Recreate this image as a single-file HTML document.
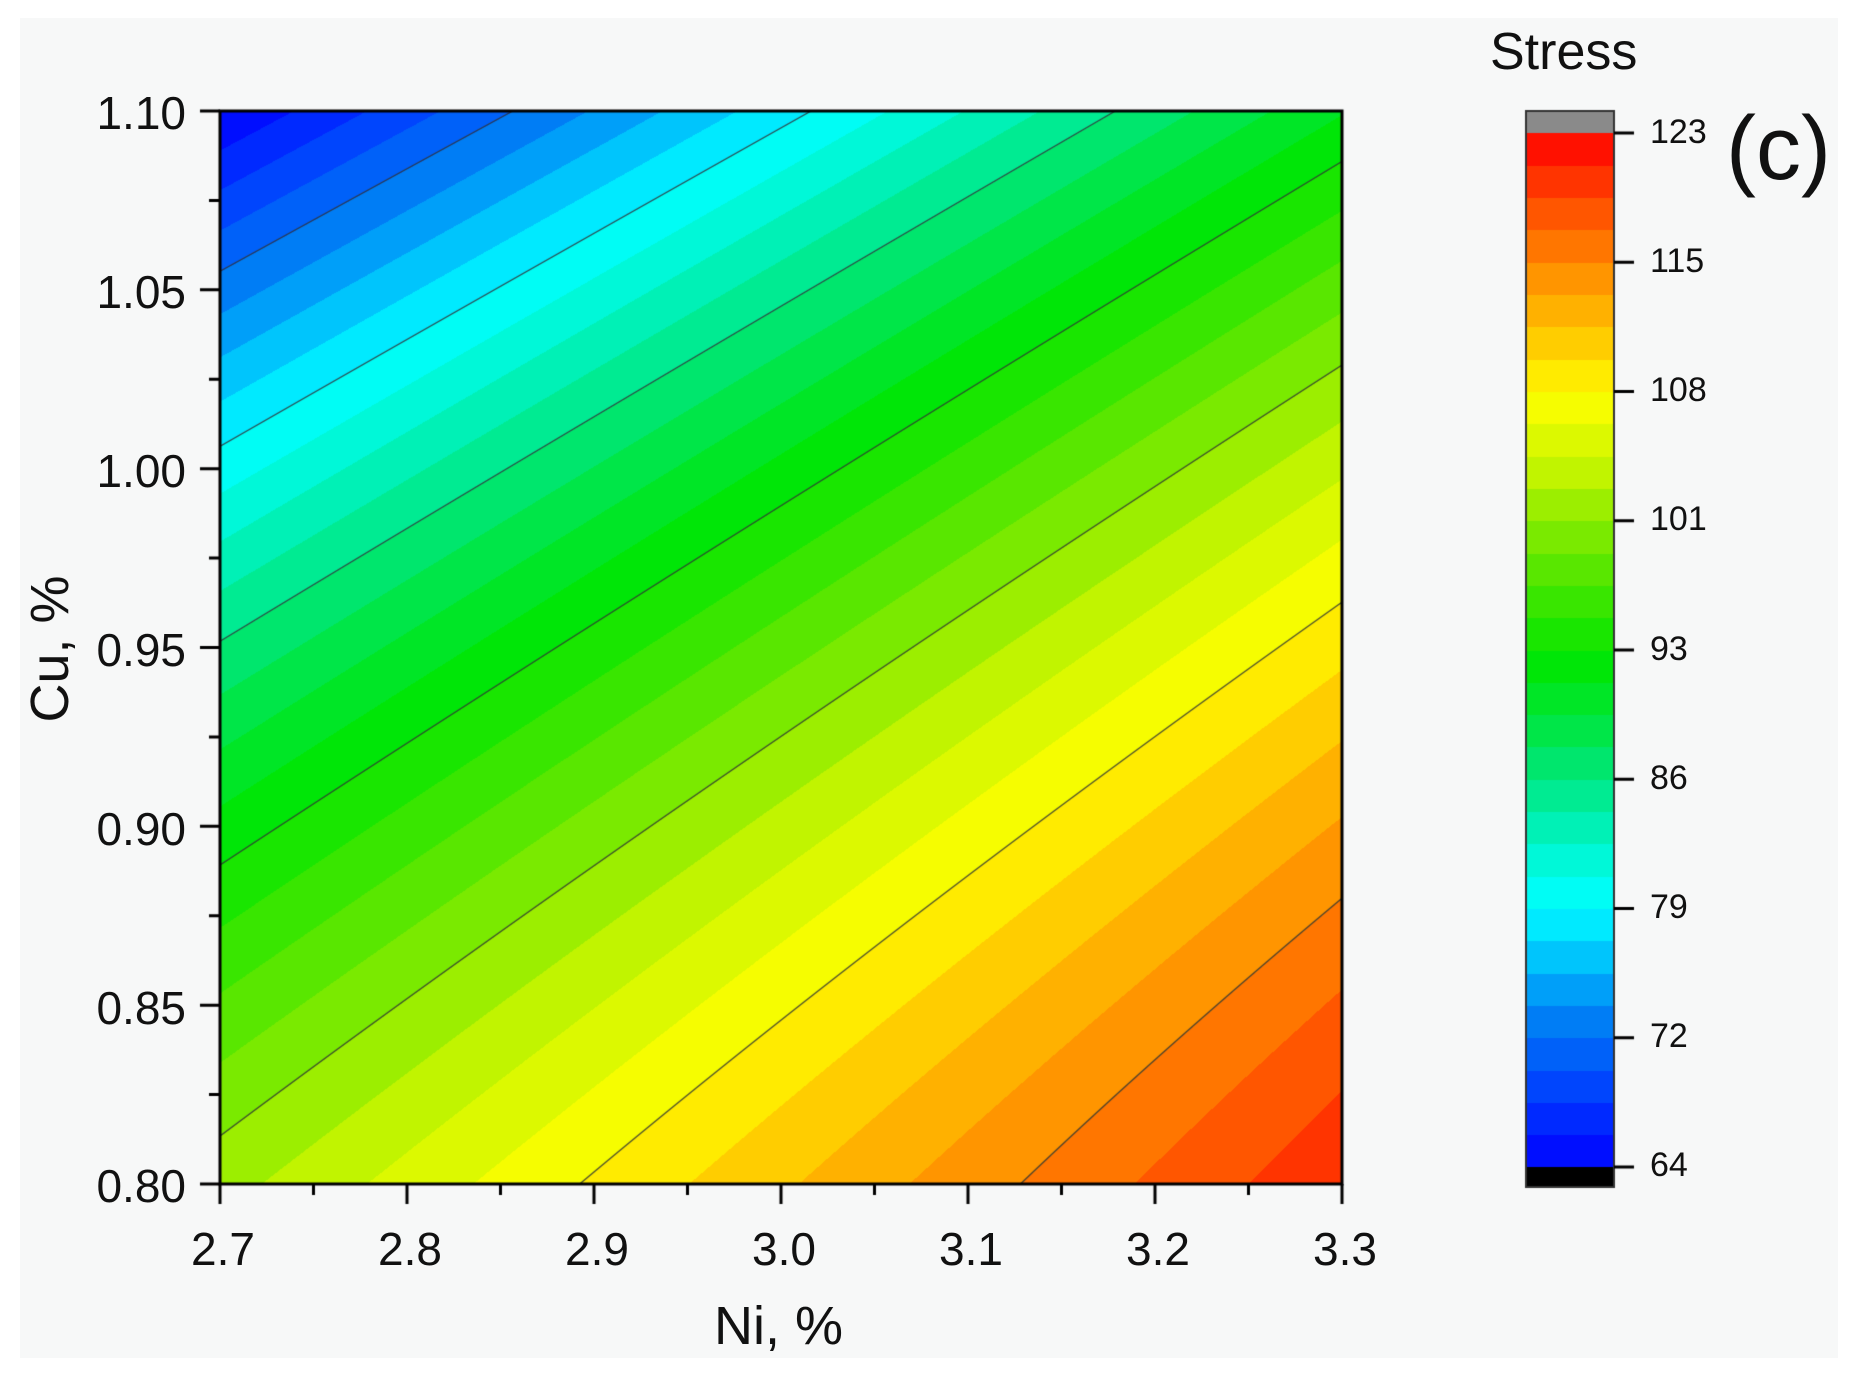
<!DOCTYPE html>
<html><head><meta charset="utf-8">
<style>
html,body{margin:0;padding:0;background:#fff;}
#wrap{position:relative;width:1858px;height:1386px;overflow:hidden;background:#fff;}
#bg{position:absolute;left:20px;top:18px;width:1818px;height:1340px;background:#f7f8f8;}
canvas{position:absolute;left:0;top:0;}
.t{position:absolute;font-family:"Liberation Sans",Arial,sans-serif;color:#111;white-space:nowrap;}
</style></head>
<body><div id="wrap">
<div id="bg"></div>
<canvas id="c" width="1858" height="1386"></canvas>
<div class="t" style="left:191px;top:1222px;font-size:46px;">2.7</div>
<div class="t" style="left:378px;top:1222px;font-size:46px;">2.8</div>
<div class="t" style="left:565px;top:1222px;font-size:46px;">2.9</div>
<div class="t" style="left:752px;top:1222px;font-size:46px;">3.0</div>
<div class="t" style="left:939px;top:1222px;font-size:46px;">3.1</div>
<div class="t" style="left:1126px;top:1222px;font-size:46px;">3.2</div>
<div class="t" style="left:1313px;top:1222px;font-size:46px;">3.3</div>
<div class="t" style="right:1672px;top:86px;font-size:46px;">1.10</div>
<div class="t" style="right:1672px;top:265px;font-size:46px;">1.05</div>
<div class="t" style="right:1672px;top:444px;font-size:46px;">1.00</div>
<div class="t" style="right:1672px;top:623px;font-size:46px;">0.95</div>
<div class="t" style="right:1672px;top:802px;font-size:46px;">0.90</div>
<div class="t" style="right:1672px;top:981px;font-size:46px;">0.85</div>
<div class="t" style="right:1672px;top:1159px;font-size:46px;">0.80</div>
<div class="t" style="left:714px;top:1295px;font-size:54px;">Ni, %</div>
<div class="t" style="left:50px;top:649px;font-size:54px;transform:translate(-50%,-50%) rotate(-90deg);">Cu, %</div>
<div class="t" style="left:1490px;top:22px;font-size:52px;">Stress</div>
<div class="t" style="left:1726px;top:98px;font-size:90px;font-family:'Liberation Sans',sans-serif;">(c)</div>
<div class="t" style="left:1650px;top:113px;font-size:34px;">123</div>
<div class="t" style="left:1650px;top:242px;font-size:34px;">115</div>
<div class="t" style="left:1650px;top:371px;font-size:34px;">108</div>
<div class="t" style="left:1650px;top:500px;font-size:34px;">101</div>
<div class="t" style="left:1650px;top:630px;font-size:34px;">93</div>
<div class="t" style="left:1650px;top:759px;font-size:34px;">86</div>
<div class="t" style="left:1650px;top:888px;font-size:34px;">79</div>
<div class="t" style="left:1650px;top:1017px;font-size:34px;">72</div>
<div class="t" style="left:1650px;top:1146px;font-size:34px;">64</div>
</div>
<script>
var cv=document.getElementById('c'),ctx=cv.getContext('2d');
var L=220,T=111,R=1342,B=1184,W=R-L,H=B-T;
var A3=-8.7;
function z(u,v){return 64+28.5*u+51.33*v+A3*u*v-13.35*v*v-1*u*u;}
var stops=[[64,0,0,255],[68,0,60,255],[72,0,120,245],[75,0,175,250],[77,0,220,255],[79,0,255,255],[81,0,250,225],[84,0,238,170],[87,0,230,110],[90,0,230,50],[93,0,230,0],[97,70,230,0],[101,140,235,0],[104,200,245,0],[108,255,255,0],[111,255,205,0],[115,255,145,0],[119,255,75,0],[123,255,0,0]];
function col(val){
 if(val<=64)return[0,0,255];if(val>=123)return[255,0,0];
 for(var i=0;i<stops.length-1;i++){var a=stops[i],b=stops[i+1];if(val<=b[0]){var t=(val-a[0])/(b[0]-a[0]);return[a[1]+t*(b[1]-a[1]),a[2]+t*(b[2]-a[2]),a[3]+t*(b[3]-a[3])];}}
}
var NB=32,step=59/NB;
function bandcol(val){var k=Math.floor((val-64)/step);k=Math.max(0,Math.min(NB-1,k));return col(64+(k+0.5)*step);}
var img=ctx.createImageData(W,H);
for(var y=0;y<H;y++){var v=y/(H-1);for(var x=0;x<W;x++){var u=x/(W-1);var c=bandcol(z(u,v));var p=(y*W+x)*4;img.data[p]=c[0];img.data[p+1]=c[1];img.data[p+2]=c[2];img.data[p+3]=255;}}
ctx.putImageData(img,L,T);
ctx.save();ctx.beginPath();ctx.rect(L,T,W,H);ctx.clip();
ctx.strokeStyle='rgba(50,50,50,0.85)';ctx.lineWidth=1.4;
for(var k=1;k<=7;k++){var lev=64+k*7.375;ctx.beginPath();var st=false;
 for(var y=-20;y<=H+20;y++){var v=y/(H-1);var c0=64+51.33*v-13.35*v*v;var s=28.5+A3*v;var u=(lev-c0)/s;
  for(var it=0;it<4;it++){u=(lev-c0+u*u)/s;}
  var px=L+u*(W-1),py=T+y;if(!st){ctx.moveTo(px,py);st=true;}else ctx.lineTo(px,py);}
 ctx.stroke();}
ctx.restore();
ctx.strokeStyle='#000';ctx.lineWidth=3;ctx.strokeRect(L,T,W,H);
ctx.lineWidth=3;ctx.beginPath();
for(var i=0;i<=12;i++){var x=L+i*W/12;var len=(i%2==0)?20:11;ctx.moveTo(x,B);ctx.lineTo(x,B+len);}
for(var i=0;i<=12;i++){var y=T+i*H/12;var len=(i%2==0)?20:11;ctx.moveTo(L,y);ctx.lineTo(L-len,y);}
ctx.stroke();
var cx=1526,cw=88,ct=111,cg=133,cb=1167,cbot=1187;
ctx.fillStyle='#8a8a8a';ctx.fillRect(cx,ct,cw,cg-ct);
ctx.fillStyle='#000';ctx.fillRect(cx,cb,cw,cbot-cb);
for(var y=cg;y<cb;y++){var val=123-(y-cg)/(cb-cg)*59;var c=bandcol(val);ctx.fillStyle='rgb('+Math.round(c[0])+','+Math.round(c[1])+','+Math.round(c[2])+')';ctx.fillRect(cx,y,cw,1);}
ctx.strokeStyle='#333';ctx.lineWidth=2;ctx.strokeRect(cx,ct,cw,cbot-ct);
ctx.strokeStyle='#000';ctx.lineWidth=3;ctx.beginPath();
for(var i=0;i<=8;i++){var y=cg+i*(cb-cg)/8;ctx.moveTo(cx+cw,y);ctx.lineTo(cx+cw+20,y);}
ctx.stroke();
</script>
</body></html>
